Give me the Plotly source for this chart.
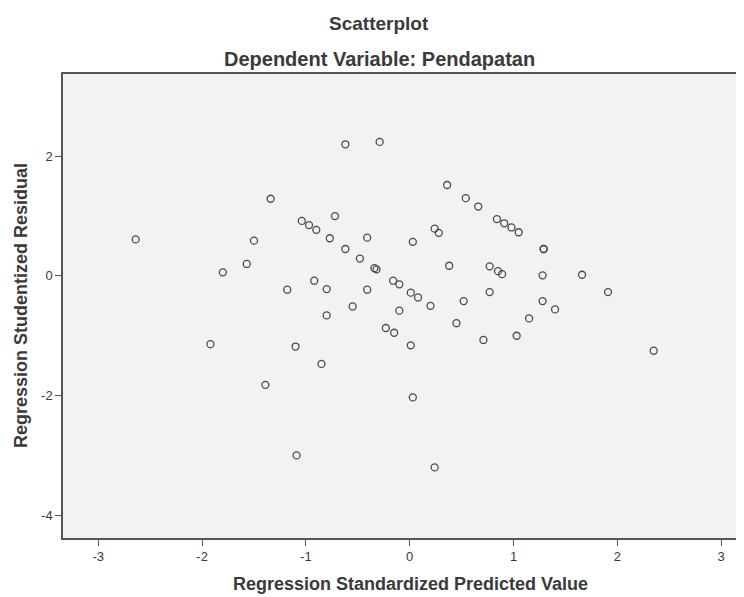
import plotly.graph_objects as go

# Regression standardized predicted values (x) and studentized residuals (y)
predicted = [
    -2.64, -1.80, -1.57, -1.50, -1.92, -1.34, -0.62, -0.29, 0.36, 0.54,
    0.66, -1.04, -0.97, -0.90, -0.72, -0.77, -0.41, 0.03, 0.24, 0.28,
    -0.62, -0.48, -0.34, -0.32, 0.38, -1.18, -0.92, -0.80, -0.41, -0.16,
    -0.10, 0.01, 0.08, 0.20, -0.55, -0.10, 0.52, -0.80, -0.23, -0.15,
    0.45, 0.01, 0.71, -1.10, -0.85, -1.39, 0.03, 0.84, 0.91, 0.98,
    1.05, 1.29, 1.29, 0.77, 0.85, 0.89, 1.28, 1.66, 0.77, 1.91,
    1.28, 1.40, 1.15, 1.03, -1.09, 0.24, 2.35,
]
residual = [
    0.61, 0.06, 0.20, 0.59, -1.14, 1.29, 2.20, 2.24, 1.52, 1.30,
    1.16, 0.92, 0.85, 0.77, 1.00, 0.63, 0.64, 0.57, 0.79, 0.72,
    0.45, 0.29, 0.13, 0.11, 0.17, -0.23, -0.08, -0.22, -0.23, -0.08,
    -0.14, -0.28, -0.36, -0.50, -0.51, -0.58, -0.42, -0.66, -0.87, -0.95,
    -0.79, -1.16, -1.07, -1.18, -1.47, -1.82, -2.03, 0.95, 0.88, 0.81,
    0.73, 0.45, 0.45, 0.16, 0.08, 0.03, 0.01, 0.02, -0.27, -0.27,
    -0.42, -0.56, -0.71, -1.00, -3.00, -3.20, -1.25,
]

x_ticks = [-3, -2, -1, 0, 1, 2, 3]
y_ticks = [-4, -2, 0, 2]

title_text = "Scatterplot"
subtitle_text = "Dependent Variable: Pendapatan"
x_title = "Regression Standardized Predicted Value"
y_title = "Regression Studentized Residual"

# The page body has an 8px default margin; size the figure so that the
# plot fills the 744x597 window the same way as the reference.
OFF = 8
W, H = 744 - OFF, 597 - OFF
ML, MR, MT, MB = 63 - OFF, 0, 74 - OFF, 59
PW = W - ML - MR
PH = H - MT - MB


def px_to_paper_x(page_px):
    return (page_px - OFF - ML) / PW


def py_to_paper_y(page_py):
    return (H - MB - (page_py - OFF)) / PH


font_family = "Liberation Sans, Arial, sans-serif"
axis_color = "#555555"
text_color = "#3a3a3a"

fig = go.Figure(
    go.Scatter(
        x=predicted,
        y=residual,
        mode="markers",
        marker=dict(symbol="circle-open", size=7, color="#4a4a4a",
                    line=dict(width=1.3, color="#4a4a4a")),
        hoverinfo="x+y",
    )
)

fig.update_layout(
    width=W,
    height=H,
    margin=dict(l=ML, r=MR, t=MT, b=MB, pad=0),
    paper_bgcolor="#ffffff",
    plot_bgcolor="#f2f2f2",
    showlegend=False,
    font=dict(family=font_family, color=text_color),
    xaxis=dict(
        range=[-3.34, 3.22],
        tickvals=x_ticks,
        ticktext=[str(v) for v in x_ticks],
        showgrid=False,
        zeroline=False,
        showline=True,
        linecolor=axis_color,
        linewidth=1.5,
        mirror=True,
        ticks="outside",
        ticklen=6,
        tickwidth=1.3,
        tickcolor=axis_color,
        tickfont=dict(size=13, color=text_color),
    ),
    yaxis=dict(
        range=[-4.38, 3.375],
        tickvals=y_ticks,
        ticktext=[str(v) for v in y_ticks],
        showgrid=False,
        zeroline=False,
        showline=True,
        linecolor=axis_color,
        linewidth=1.5,
        ticks="outside",
        ticklen=6,
        tickwidth=1.3,
        tickcolor=axis_color,
        tickfont=dict(size=13, color=text_color),
    ),
    annotations=[
        dict(text="<b>" + title_text + "</b>", xref="paper", yref="paper",
             x=px_to_paper_x(379), y=py_to_paper_y(24), showarrow=False,
             xanchor="center", yanchor="middle",
             font=dict(size=19, color=text_color)),
        dict(text="<b>" + subtitle_text + "</b>", xref="paper", yref="paper",
             x=px_to_paper_x(379), y=py_to_paper_y(59), showarrow=False,
             xanchor="center", yanchor="middle",
             font=dict(size=20, color=text_color)),
        dict(text="<b>" + x_title + "</b>", xref="paper", yref="paper",
             x=px_to_paper_x(410), y=py_to_paper_y(584), showarrow=False,
             xanchor="center", yanchor="middle",
             font=dict(size=18, color=text_color)),
        dict(text="<b>" + y_title + "</b>", xref="paper", yref="paper",
             x=px_to_paper_x(21), y=py_to_paper_y(306), showarrow=False,
             xanchor="center", yanchor="middle", textangle=-90,
             font=dict(size=18, color=text_color)),
    ],
)

fig.write_html("out.html")
